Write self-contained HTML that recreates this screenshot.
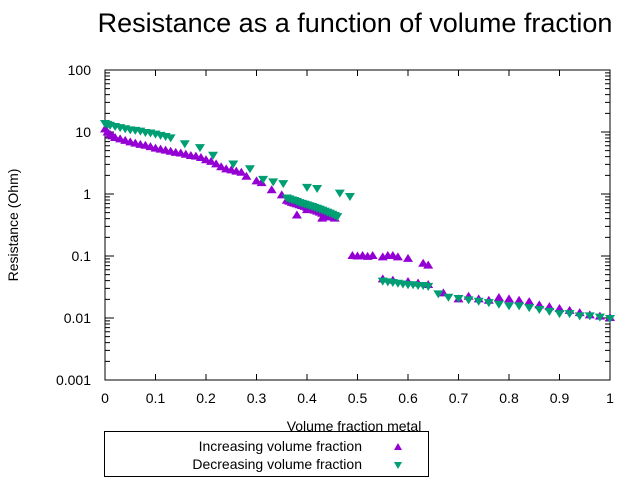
<!DOCTYPE html>
<html><head><meta charset="utf-8"><style>
body{margin:0;background:#fff;font-family:"Liberation Sans",sans-serif}
svg{display:block}
</style></head><body>
<svg id="c" width="640" height="480" xmlns="http://www.w3.org/2000/svg">
<text x="355" y="32" font-size="27" text-anchor="middle">Resistance as a function of volume fraction</text>
<rect x="105" y="70" width="505" height="310" fill="none" stroke="#000"/>
<g id="ticks"></g>
<text x="18" y="225" font-size="14" text-anchor="middle" transform="rotate(-90 18 225)">Resistance (Ohm)</text>
<text x="354" y="431" font-size="14" text-anchor="middle">Volume fraction metal</text>
<g id="marks"></g>
<g>
<rect x="104.5" y="431.5" width="324" height="45" fill="none" stroke="#000"/>
<text x="362" y="451" font-size="14" text-anchor="end">Increasing volume fraction</text>
<path d="M398 443 L402 450 L394 450 Z" fill="#9400d3"/>
<text x="362" y="469" font-size="14" text-anchor="end">Decreasing volume fraction</text>
<path d="M394 462 L402 462 L398 469 Z" fill="#009e73"/>
</g>
</svg>
<script>
const xTicks=[0,0.1,0.2,0.3,0.4,0.5,0.6,0.7,0.8,0.9,1];
const yTicks=[0.001,0.01,0.1,1,10,100];
const yTickLabels=["0.001","0.01","0.1","1","10","100"];
const incX=[0,0.005,0.01,0.015,0.02,0.03,0.04,0.05,0.06,0.07,0.08,0.09,0.1,0.11,0.12,0.13,0.14,0.15,0.16,0.17,0.18,0.19,0.2,0.21,0.22,0.23,0.24,0.25,0.26,0.27,0.28,0.3,0.31,0.33,0.35,0.36,0.365,0.37,0.375,0.38,0.385,0.39,0.395,0.4,0.405,0.41,0.415,0.42,0.425,0.43,0.435,0.44,0.445,0.45,0.455,0.38,0.4,0.43,0.44,0.49,0.5,0.51,0.52,0.53,0.55,0.56,0.57,0.58,0.6,0.63,0.64,0.55,0.57,0.6,0.62,0.64,0.67,0.7,0.72,0.74,0.76,0.78,0.8,0.82,0.84,0.86,0.88,0.9,0.92,0.94,0.96,0.98,1];
const incY=[11,9.8,9,8.5,8,7.6,7.2,6.8,6.5,6.2,6,5.7,5.4,5.2,5,4.8,4.6,4.5,4.3,4.1,4,3.8,3.5,3.3,3,2.7,2.5,2.4,2.3,2.2,1.9,1.6,1.5,1.15,0.95,0.78,0.75,0.72,0.7,0.68,0.66,0.64,0.62,0.6,0.58,0.56,0.54,0.52,0.5,0.48,0.46,0.45,0.43,0.42,0.4,0.45,0.55,0.4,0.42,0.1,0.098,0.1,0.097,0.1,0.095,0.1,0.1,0.095,0.09,0.075,0.07,0.042,0.04,0.038,0.036,0.034,0.025,0.02,0.022,0.02,0.019,0.021,0.02,0.019,0.018,0.016,0.015,0.014,0.013,0.012,0.011,0.0105,0.01];
const decX=[0,0.005,0.01,0.02,0.03,0.04,0.05,0.06,0.07,0.08,0.09,0.1,0.11,0.12,0.13,0.158,0.188,0.214,0.254,0.287,0.313,0.333,0.353,0.4,0.42,0.465,0.485,0.36,0.365,0.37,0.375,0.38,0.385,0.39,0.395,0.4,0.405,0.41,0.415,0.42,0.425,0.43,0.435,0.44,0.445,0.45,0.455,0.46,0.55,0.56,0.57,0.58,0.59,0.6,0.61,0.62,0.63,0.64,0.66,0.68,0.7,0.72,0.74,0.76,0.78,0.8,0.82,0.84,0.86,0.88,0.9,0.92,0.94,0.96,0.98,1];
const decY=[14,13.5,13,12.5,12,11.5,11,10.8,10.5,10,9.8,9.4,9,8.6,8.2,6.6,5.7,4.3,3.1,2.6,1.75,1.6,1.5,1.3,1.25,1.05,0.93,0.88,0.85,0.82,0.8,0.77,0.74,0.72,0.7,0.68,0.66,0.64,0.62,0.6,0.58,0.56,0.54,0.52,0.5,0.48,0.46,0.44,0.04,0.039,0.038,0.037,0.036,0.035,0.035,0.034,0.034,0.033,0.025,0.022,0.021,0.02,0.019,0.018,0.017,0.016,0.016,0.015,0.014,0.013,0.012,0.012,0.011,0.011,0.0105,0.01];
const X0=105,X1=610,Y0=380,Y1=70;
const sx=v=>X0+(X1-X0)*v;
const sy=v=>Y0-(Y0-Y1)*(Math.log10(v)+3)/5;
const NS="http://www.w3.org/2000/svg";
const tg=document.getElementById('ticks'),mg=document.getElementById('marks');
function mk(t,a,p){const e=document.createElementNS(NS,t);for(const k in a)e.setAttribute(k,a[k]);p.appendChild(e);return e;}
xTicks.forEach(v=>{const x=sx(v);
 const l=mk('path',{d:`M${x} 380 v-6 M${x} 70 v6`,stroke:'#000'},tg);
 
 
 const t=mk('text',{x:x,y:403,'font-size':14,'text-anchor':'middle'},tg);t.textContent=String(v);
 
 });
yTicks.forEach((v,i)=>{const y=sy(v);
 let d=`M105 ${y} h9 M610 ${y} h-9`;
 if(i<yTicks.length-1){for(let m=2;m<10;m++){const yy=sy(v*m);d+=` M105 ${yy} h5 M610 ${yy} h-5`;}}
 const l=mk('path',{d:d,stroke:'#000'},tg);
 
 
 const t=mk('text',{x:91,y:y+5,'font-size':14,'text-anchor':'end'},tg);t.textContent=yTickLabels[i];
 
 });
incX.forEach((v,i)=>{const x=sx(v),y=sy(incY[i]);
 const p=mk('path',{d:`M${x} ${y-5} L${x+5} ${y+3} L${x-5} ${y+3} Z`,fill:'#9400d3'},mg);
 
 });
decX.forEach((v,i)=>{const x=sx(v),y=sy(decY[i]);
 const p=mk('path',{d:`M${x-5} ${y-3} L${x+5} ${y-3} L${x} ${y+5} Z`,fill:'#009e73'},mg);
 
 });
</script>
</body></html>
